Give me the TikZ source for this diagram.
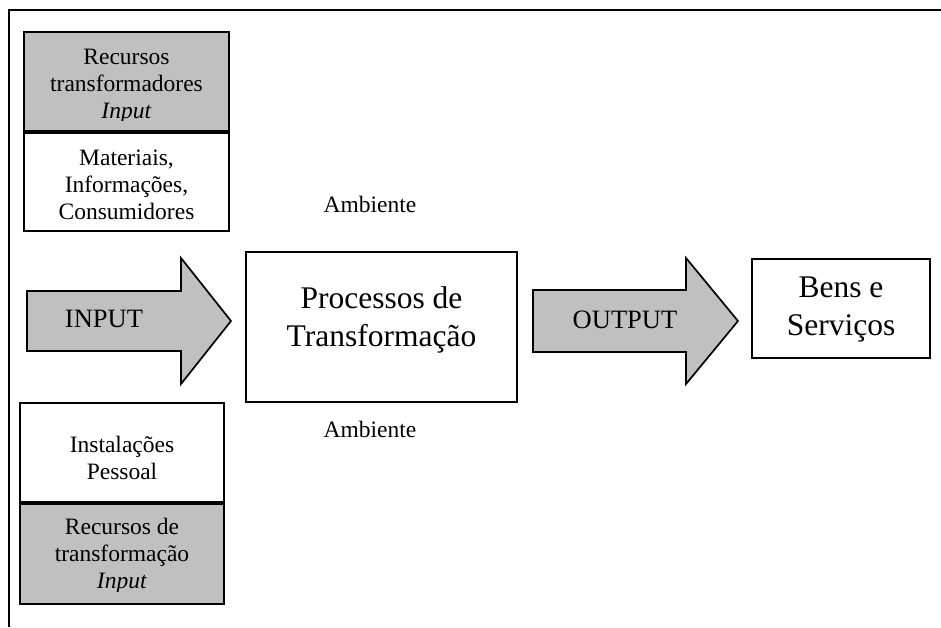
\documentclass[tikz,border=0pt]{standalone}
\usepackage{fontspec}
\setmainfont{Liberation Serif}
\definecolor{boxgray}{RGB}{192,192,192}
\begin{document}
\begin{tikzpicture}[x=1pt,y=-1pt,
  panel/.style={draw=black,line width=1.7pt,rectangle,inner sep=0pt},
  shaded/.style={panel,fill=boxgray},
  smalltext/.style={font=\fontsize{23.5}{27}\selectfont,align=center,inner sep=0pt},
  bigtext/.style={font=\fontsize{31.5}{38}\selectfont,align=center,inner sep=0pt},
  arrowtext/.style={font=\fontsize{26.5}{30}\selectfont,inner sep=0pt},
  bigarrow/.style={draw=black,line width=1.7pt,fill=boxgray,line join=miter},
]
\useasboundingbox (0,0) rectangle (941,628);

% outer frame (top and left edges)
\coordinate (frameBL) at (9,627);
\coordinate (frameTL) at (9,10);
\coordinate (frameTR) at (941,10);
\draw[line width=2pt] (frameBL) -- (frameTL) -- (frameTR);

% transformed resources (top left)
\node[shaded,minimum width=205pt,minimum height=99pt] (tgray) at (126.5,81.5) {};
\node[panel,minimum width=205pt,minimum height=98pt,anchor=north] (twhite) at (tgray.south) {};
\begin{scope}
  \clip (24,32) rectangle (229,120.5);
  \node[smalltext] (tgraytxt) at (126.5,86.8) {Recursos\\transformadores\\\textit{Input}};
\end{scope}
\node[smalltext] (twhitetxt) at (126.5,185.2) {Materiais,\\Informações,\\Consumidores};

% transforming resources (bottom left)
\node[panel,minimum width=204pt,minimum height=99pt] (bwhite) at (122,452.5) {};
\node[shaded,minimum width=204pt,minimum height=100pt,anchor=north] (bgray) at (bwhite.south) {};
\node[smalltext] (bwhitetxt) at (122,458) {Instalações\\Pessoal};
\begin{scope}
  \clip (20,502) rectangle (224,591);
  \node[smalltext] (bgraytxt) at (122,556) {Recursos de\\transformação\\\textit{Input}};
\end{scope}

% input arrow
\coordinate (ia1) at (27,291);
\coordinate (ia2) at (181,291);
\coordinate (ia3) at (181,258);
\coordinate (iatip) at (231,321);
\coordinate (ia5) at (181,384);
\coordinate (ia6) at (181,351);
\coordinate (ia7) at (27,351);
\draw[bigarrow] (ia1) -- (ia2) -- (ia3) -- (iatip) -- (ia5) -- (ia6) -- (ia7) -- cycle;
\node[arrowtext,anchor=base] (inlbl) at (104,327) {INPUT};

% transformation process
\node[panel,minimum width=271pt,minimum height=150pt] (proc) at (381.5,327) {};
\node[bigtext] (proctxt) at (381.5,319.6) {Processos de\\Transformação};
\node[smalltext,anchor=base] (envtop) at (370,213) {Ambiente};
\node[smalltext,anchor=base] (envbot) at (370,437) {Ambiente};

% output arrow
\coordinate (oa1) at (533,290);
\coordinate (oa2) at (686,290);
\coordinate (oa3) at (686,258);
\coordinate (oatip) at (738,321);
\coordinate (oa5) at (686,384);
\coordinate (oa6) at (686,352);
\coordinate (oa7) at (533,352);
\draw[bigarrow] (oa1) -- (oa2) -- (oa3) -- (oatip) -- (oa5) -- (oa6) -- (oa7) -- cycle;
\node[arrowtext,anchor=base] (outlbl) at (625,328) {OUTPUT};

% goods and services
\node[panel,minimum width=178pt,minimum height=99pt] (goods) at (841,308.5) {};
\node[bigtext] (goodstxt) at (841,310) {Bens e\\Serviços};
\end{tikzpicture}
\end{document}
